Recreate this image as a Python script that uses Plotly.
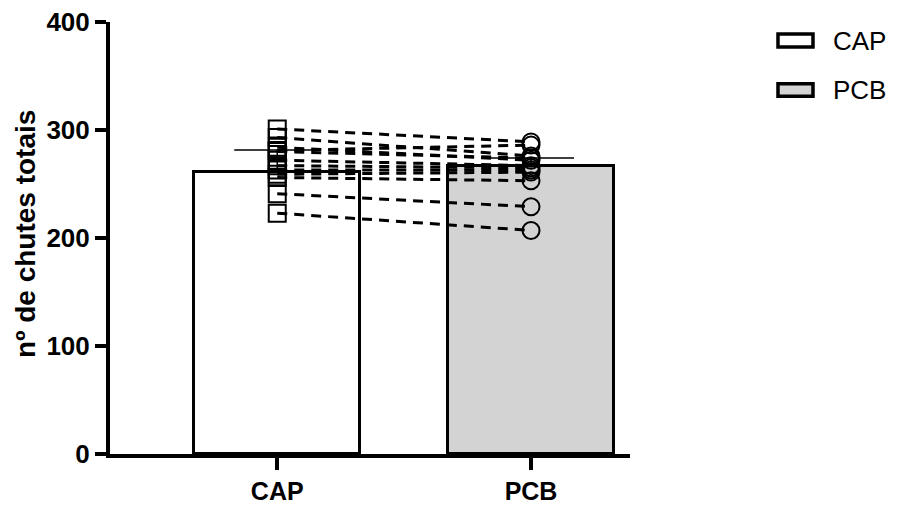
import plotly.graph_objects as go

categories = ["CAP", "PCB"]
bar_means = [261.5, 266.5]
bar_errors = [20, 7.5]
cap_values = [301, 293, 281, 284, 280, 272, 267, 263, 259, 256, 241, 223]
pcb_values = [289, 276, 286, 272, 274, 267, 265, 263, 261, 253, 229, 207]
y_ticks = [0, 100, 200, 300, 400]

FONT = "Liberation Sans, Arial, sans-serif"
GREY = "#d3d3d3"

fig = go.Figure()

fig.add_trace(go.Bar(
    x=[0, 1], y=bar_means, width=0.654,
    marker=dict(color=["white", GREY], line=dict(color="black", width=3)),
    error_y=dict(type="data", symmetric=False, array=bar_errors, arrayminus=[0, 0],
                 width=43, thickness=1.5, color="black"),
    showlegend=False, hoverinfo="skip",
))

# paired dashed lines
lx, ly = [], []
for a, b in zip(cap_values, pcb_values):
    lx += [0, 1, None]
    ly += [a, b, None]
fig.add_trace(go.Scatter(
    x=lx, y=ly, mode="lines",
    line=dict(color="black", width=3, dash="10px,7px"),
    showlegend=False, hoverinfo="skip",
))

fig.add_trace(go.Scatter(
    x=[0] * len(cap_values), y=cap_values, mode="markers",
    marker=dict(symbol="square-open", size=17, color="black", line=dict(width=2)),
    showlegend=False,
))
fig.add_trace(go.Scatter(
    x=[1] * len(pcb_values), y=pcb_values, mode="markers",
    marker=dict(symbol="circle-open", size=17, color="black", line=dict(width=2)),
    showlegend=False,
))

# custom legend (paper coords; plot area is 520 x 432 px)
legend_items = [("CAP", "white", 0.972, 0.942), ("PCB", GREY, 0.857, 0.828)]
for name, fill, y1, y0 in legend_items:
    fig.add_shape(type="rect", xref="paper", yref="paper",
                  x0=1.2846, x1=1.3519, y0=y0, y1=y1,
                  fillcolor=fill, line=dict(color="black", width=3.5))
    fig.add_annotation(xref="paper", yref="paper", x=1.386, y=(y0 + y1) / 2,
                       text=name, showarrow=False, xanchor="left", yanchor="middle",
                       font=dict(family=FONT, size=26, color="black"))

fig.add_annotation(xref="paper", yref="paper", x=-0.163, y=0.51,
                   text="nº de chutes totais", textangle=-90, showarrow=False,
                   xanchor="center", yanchor="middle",
                   font=dict(family=FONT, size=28, color="black", weight="bold"))

# page body has an 8px margin, so the figure is drawn at (8, 8)
fig.update_layout(
    width=890, height=499,
    margin=dict(l=102, r=268, t=14, b=53),
    paper_bgcolor="white", plot_bgcolor="white",
    bargap=0,
)
fig.update_xaxes(
    range=[-0.659, 1.390], tickvals=[0, 1], ticktext=categories,
    showline=True, linewidth=4, linecolor="black",
    ticks="outside", ticklen=12, tickwidth=4, tickcolor="black",
    showgrid=False, zeroline=False, automargin=False, ticklabeloverflow="allow",
    tickfont=dict(family=FONT, size=25, color="black", weight="bold"),
)
fig.update_yaxes(
    range=[0, 400], tickvals=y_ticks,
    showline=True, linewidth=4, linecolor="black",
    ticks="outside", ticklen=11, tickwidth=4, tickcolor="black",
    showgrid=False, zeroline=False, automargin=False, ticklabeloverflow="allow",
    tickfont=dict(family=FONT, size=26, color="black", weight="bold"),
)

fig.write_html("out.html")
